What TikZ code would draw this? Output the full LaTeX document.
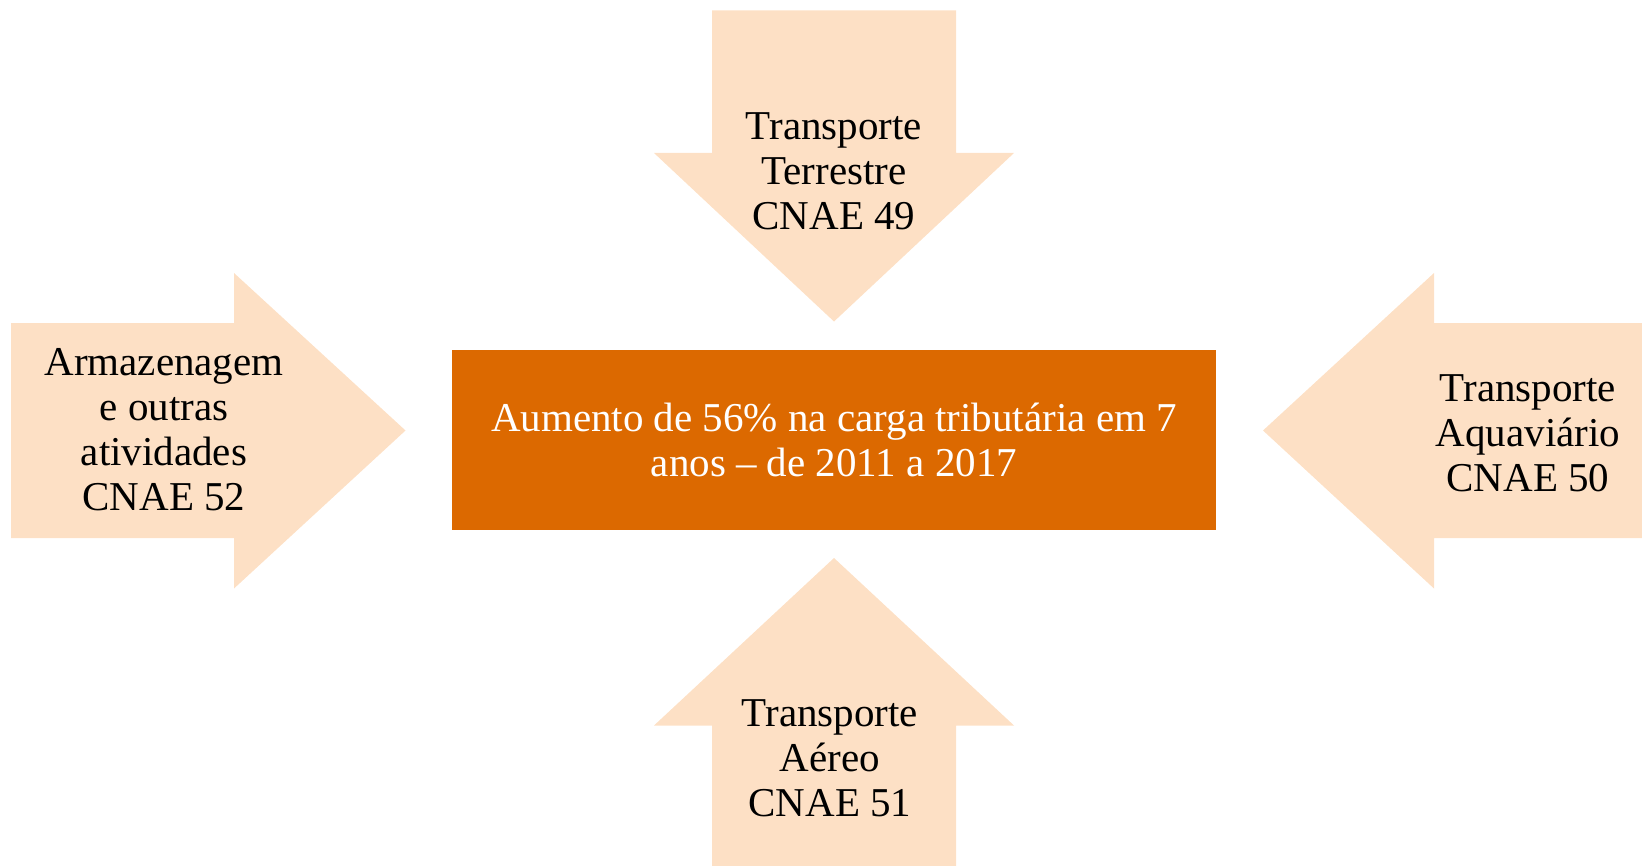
\documentclass[tikz,border=0pt]{standalone}
\usepackage{fontspec}
\setmainfont{Liberation Serif}
\definecolor{peach}{HTML}{FDE0C5}
\definecolor{burnt}{HTML}{DC6900}
\begin{document}
\begin{tikzpicture}[x=0.5pt,y=-0.5pt,
    lbl/.style={align=center,inner sep=0pt,font=\fontsize{20.5}{22.5}\selectfont}]
  \useasboundingbox (0,0) rectangle (1642,866);
  \begin{scope}[fill=peach]
    % from above
    \fill (712,10.5) -- (956,10.5) -- (956,153) -- (1014,153) -- (834,321.5)
      -- (654,153) -- (712,153) -- cycle;
    % from below
    \fill (834,558) -- (1014,725.5) -- (956,725.5) -- (956,866) -- (712,866)
      -- (712,725.5) -- (654,725.5) -- cycle;
    % from the left
    \fill (11,323) -- (234,323) -- (234,273) -- (405.5,430.5) -- (234,588.5)
      -- (234,538) -- (11,538) -- cycle;
    % from the right
    \fill (1263,430.5) -- (1434,273) -- (1434,323) -- (1642,323) -- (1642,538)
      -- (1434,538) -- (1434,588.5) -- cycle;
  \end{scope}
  \fill[burnt] (452,350) rectangle (1216,530);
  \draw
    (834,440) node[lbl,text=white] (carga){Aumento de 56\% na carga tributária em 7\\anos -- de 2011 a 2017}
    (834,171) node[lbl] (terrestre){Transporte\\Terrestre\\CNAE 49}
    (830,758) node[lbl] (aereo){Transporte\\Aéreo\\CNAE 51}
    (1528,433) node[lbl] (aquaviario){Transporte\\Aquaviário\\CNAE 50}
    (164,430) node[lbl] (armazenagem){Armazenagem\\e outras\\atividades\\CNAE 52};
\end{tikzpicture}
\end{document}
